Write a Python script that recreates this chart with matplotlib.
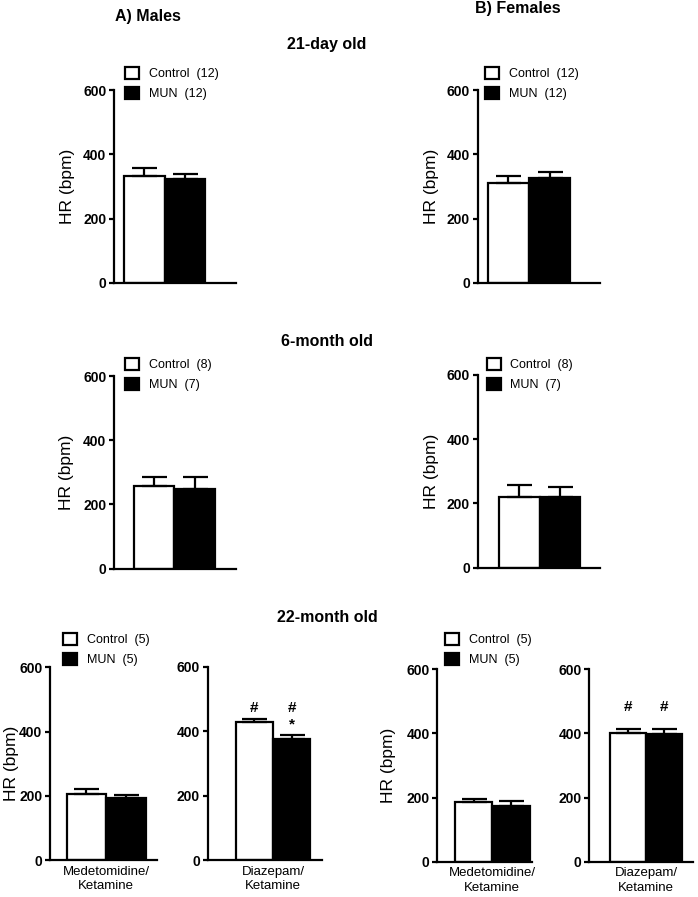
import matplotlib
matplotlib.use("Agg")
import matplotlib.pyplot as plt
import matplotlib.transforms as mtransforms

plt.rcParams['font.family'] = ['Liberation Sans', 'DejaVu Sans']

# ---------------- data ----------------
panel_names = ["Males 21d", "Females 21d", "Males 6m", "Females 6m",
               "Males 22m Med/Ket", "Males 22m Diaz/Ket",
               "Females 22m Med/Ket", "Females 22m Diaz/Ket"]
control_mean = [334, 310, 258, 221, 205, 430, 185, 400]
control_sem = [23, 24, 26, 38, 16, 7, 10, 14]
mun_mean = [322, 327, 248, 220, 194, 376, 174, 398]
mun_sem = [16, 19, 36, 32, 8, 12, 16, 16]
n_control = [12, 12, 8, 8, 5, 5, 5, 5]
n_mun = [12, 12, 7, 7, 5, 5, 5, 5]
group_labels = ["Control", "MUN"]
x_labels = ["", "", "", "", "Medetomidine/\nKetamine", "Diazepam/\nKetamine",
            "Medetomidine/\nKetamine", "Diazepam/\nKetamine"]
control_marks = [[], [], [], [], [], ["#"], [], ["#"]]
mun_marks = [[], [], [], [], [], ["#", "*"], [], ["#"]]
y_ticks = [0, 200, 400, 600]
y_label = "HR (bpm)"
section_titles = ["A) Males", "B) Females"]
age_titles = ["21-day old", "6-month old", "22-month old"]

# ---------------- layout ----------------
W, H = 698, 897
fig = plt.figure(figsize=(W / 100, H / 100), dpi=100)

# axes boxes in pixels: x0, x1, ytop, ybottom
axes_px = [(114, 236, 90, 283), (477.7, 600, 90, 283),
           (114, 236, 376, 568.7), (477.7, 600, 375, 567.7),
           (50, 157, 667.3, 860), (207.7, 321.7, 667, 860),
           (437.3, 531.7, 669.3, 861.7), (589.3, 693, 669.3, 861.7)]
xlims = [(-0.747, 2.265), (-0.75, 2.23), (-0.99, 2.02), (-1.03, 1.99),
         (-0.92, 1.78), (-1.25, 1.81), (-0.97, 1.55), (-1.07, 1.80)]
legend_px = {0: (125, 67), 1: (485, 67), 2: (125, 358), 3: (486.7, 358),
             4: (63, 633), 6: (445, 633)}
ylabel_px = {0: 67.5, 1: 431.7, 2: 66, 3: 431.7, 4: 11.7, 6: 388}
mark_row_y = {5: 0.788, 7: 0.804}
mark_step = 0.088

lw = 1.6
for i in range(len(panel_names)):
    x0, x1, yt, yb = axes_px[i]
    ax = fig.add_axes([x0 / W, 1 - yb / H, (x1 - x0) / W, (yb - yt) / H])
    bars = ax.bar([0, 1], [control_mean[i], mun_mean[i]], width=1.0,
                  color=["white", "black"], edgecolor="black", linewidth=lw,
                  zorder=2)
    ax.errorbar([0, 1], [control_mean[i], mun_mean[i]],
                yerr=[[0, 0], [control_sem[i], mun_sem[i]]],
                fmt="none", ecolor="black", elinewidth=lw, capsize=9,
                capthick=lw, zorder=3)
    ax.set_xlim(*xlims[i])
    ax.set_ylim(0, 600)
    ax.set_yticks(y_ticks)
    ax.set_yticklabels([str(t) for t in y_ticks], fontweight="bold", fontsize=10)
    ax.tick_params(axis="y", direction="out", length=3.5, width=lw, pad=2)
    if x_labels[i]:
        ax.set_xticks([0.5])
        ax.set_xticklabels([x_labels[i]], fontsize=9.5, linespacing=1.3)
        ax.tick_params(axis="x", length=0, pad=4)
    else:
        ax.set_xticks([])
    for s in ["top", "right"]:
        ax.spines[s].set_visible(False)
    for s in ["left", "bottom"]:
        ax.spines[s].set_linewidth(lw)
    ax.patch.set_alpha(0)

    if i in ylabel_px:
        ax.set_ylabel(y_label, fontsize=12.5, va="center")
        ax.yaxis.set_label_coords((ylabel_px[i] - x0) / (x1 - x0), 0.5)

    if i in legend_px:
        lx, ly = legend_px[i]
        ax.legend(handles=list(bars),
                  labels=[f"{group_labels[0]}  ({n_control[i]})",
                          f"{group_labels[1]}  ({n_mun[i]})"],
                  loc="upper left", bbox_to_anchor=(lx / W, 1 - ly / H),
                  bbox_transform=fig.transFigure, frameon=False,
                  borderpad=0, borderaxespad=0, handlelength=1.15,
                  handleheight=1.05, handletextpad=0.75, labelspacing=0.55,
                  fontsize=9)

    if i in mark_row_y:
        trans = mtransforms.blended_transform_factory(ax.transData, ax.transAxes)
        for xi, marks in enumerate([control_marks[i], mun_marks[i]]):
            for k, m in enumerate(marks):
                ax.text(xi, mark_row_y[i] - k * mark_step, m, transform=trans,
                        ha="center", va="center", fontsize=11,
                        fontweight="bold")

# titles
fig.text(147.5 / W, 1 - 16 / H, section_titles[0], ha="center", va="center",
         fontsize=11.5, fontweight="bold")
fig.text(517.5 / W, 1 - 8 / H, section_titles[1], ha="center", va="center",
         fontsize=11.5, fontweight="bold")
for t, y in zip(age_titles, [45, 341, 618]):
    fig.text(327 / W, 1 - y / H, t, ha="center", va="center",
             fontsize=11.5, fontweight="bold")

fig.savefig("out.png", dpi=100)
